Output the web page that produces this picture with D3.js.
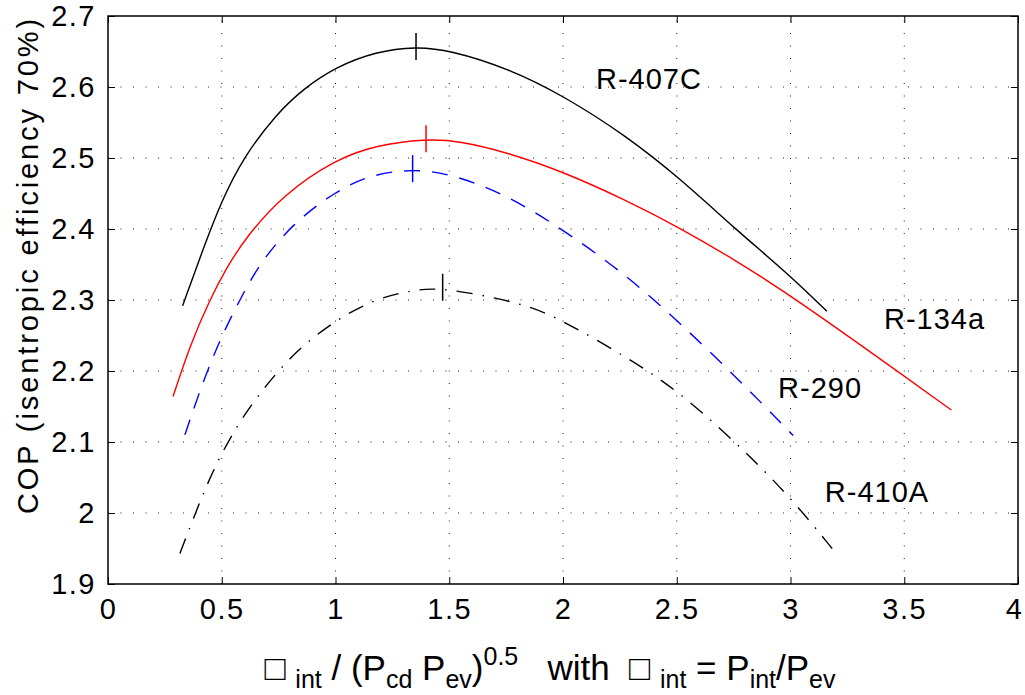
<!DOCTYPE html>
<html><head><meta charset="utf-8">
<script src="https://cdn.jsdelivr.net/npm/d3@7"></script>
<style>body{margin:0;background:#fff}svg{display:block}text{font-family:"Liberation Sans",Arial,Helvetica,sans-serif;fill:#000}</style>
</head><body><svg id="c" width="1025" height="695"></svg>
<script>
const xTicks = [0,0.5,1,1.5,2,2.5,3,3.5,4];
const yTicks = [1.9,2,2.1,2.2,2.3,2.4,2.5,2.6,2.7];
const seriesNames = ["R-407C","R-134a","R-290","R-410A"];
const r407cX = [0.328,0.418,0.5,0.593,0.74,0.857,1.0,1.178,1.354,1.5,1.754,2.006,2.274,2.512,2.764,2.989,3.16];
const r407cY = [2.292,2.372,2.440,2.500,2.562,2.597,2.628,2.650,2.657,2.652,2.627,2.587,2.532,2.472,2.398,2.337,2.284];
const r134aX = [0.286,0.36,0.447,0.52,0.608,0.769,1.0,1.178,1.398,1.544,1.754,2.006,2.274,2.512,2.764,3.017,3.495,3.707];
const r134aY = [2.164,2.236,2.300,2.345,2.389,2.448,2.498,2.518,2.527,2.524,2.508,2.480,2.441,2.402,2.355,2.303,2.194,2.145];
const r290X = [0.338,0.404,0.491,0.579,0.667,0.813,1.0,1.149,1.339,1.515,1.754,2.006,2.274,2.497,2.785,3.012];
const r290Y = [2.110,2.173,2.244,2.300,2.352,2.408,2.453,2.476,2.485,2.477,2.448,2.398,2.336,2.273,2.184,2.109];
const r410aX = [0.316,0.389,0.462,0.564,0.667,0.813,1.0,1.178,1.339,1.471,1.833,2.0,2.287,2.498,2.755,2.996,3.193];
const r410aY = [1.943,2.004,2.061,2.122,2.169,2.225,2.272,2.302,2.314,2.318,2.295,2.271,2.218,2.174,2.101,2.024,1.946];
const peakX = [1.354,1.398,1.339,1.471];
const peakY = [2.657,2.527,2.485,2.318];
const labelX = [2.378,3.633,3.130,3.380];
const labelY = [2.611,2.273,2.176,2.029];
const colors = ["#000","#ff0000","#0000ff","#000"];
const dashes = [null,null,"16,12","16,10,1.5,10"];

const svg = d3.select("#c");
const m = {l:108,t:16,r:7,b:111};
const W = 1025, H = 695;
const x = d3.scaleLinear().domain([0,4]).range([m.l, W-m.r]);
const y = d3.scaleLinear().domain([1.9,2.7]).range([H-m.b, m.t]);

// grid
const g = svg.append("g");
g.selectAll("line.gx").data(xTicks.slice(1,-1)).join("line")
 .attr("x1",d=>x(d)).attr("x2",d=>x(d)).attr("y1",y(1.9)).attr("y2",y(2.7))
 .attr("stroke","#222").attr("stroke-width",1).attr("stroke-dasharray","1,11.5");
g.selectAll("line.gy").data(yTicks.slice(1,-1)).join("line")
 .attr("y1",d=>y(d)).attr("y2",d=>y(d)).attr("x1",x(0)).attr("x2",x(4))
 .attr("stroke","#222").attr("stroke-width",1).attr("stroke-dasharray","1,11.5");

// axes
const tk = 7;
const xb = svg.append("g").attr("transform",`translate(0,${y(1.9)})`)
 .call(d3.axisBottom(x).tickValues(xTicks).tickSize(-tk).tickPadding(14).tickFormat(d3.format("~g")));
xb.selectAll(".tick text").filter(d=>d===4).attr("dx",-4);
svg.append("g").attr("transform",`translate(0,${y(2.7)})`)
 .call(d3.axisTop(x).tickValues(xTicks).tickSize(-tk).tickFormat(""));
svg.append("g").attr("transform",`translate(${x(0)},0)`)
 .call(d3.axisLeft(y).tickValues(yTicks).tickSize(-tk).tickPadding(12).tickFormat(d3.format("~g")));
svg.append("g").attr("transform",`translate(${x(4)},0)`)
 .call(d3.axisRight(y).tickValues(yTicks).tickSize(-tk).tickFormat(""));
svg.selectAll(".domain").remove();
svg.selectAll(".tick line").attr("stroke","#000").attr("stroke-width",1);
svg.selectAll(".tick text").style("font-size","29px").style("letter-spacing","1.5px").attr("fill","#000");
svg.append("rect").attr("x",x(0)).attr("y",y(2.7)).attr("width",x(4)-x(0)).attr("height",y(1.9)-y(2.7))
 .attr("fill","none").attr("stroke","#000").attr("stroke-width",1.5);

// curves
const xs = [r407cX,r134aX,r290X,r410aX], ys=[r407cY,r134aY,r290Y,r410aY];
const line = d3.line().x(d=>x(d[0])).y(d=>y(d[1])).curve(d3.curveBasis);
seriesNames.forEach((n,i)=>{
  const pts = xs[i].map((v,j)=>[v,ys[i][j]]);
  const p = svg.append("path").attr("d",line(pts)).attr("fill","none").attr("stroke",colors[i]).attr("stroke-width",1.4);
  if(dashes[i]) p.attr("stroke-dasharray",dashes[i]);
  svg.append("line").attr("x1",x(peakX[i])).attr("x2",x(peakX[i])).attr("y1",y(peakY[i])-13.5).attr("y2",y(peakY[i])+13.5)
   .attr("stroke",colors[i]).attr("stroke-width",1.5);
  svg.append("text").attr("x",x(labelX[i])).attr("y",y(labelY[i])).attr("text-anchor","middle").attr("dominant-baseline","central")
   .style("font-size","29px").style("letter-spacing","1px").text(n);
});

// y label
svg.append("text").attr("transform",`translate(28,${(y(1.9)+y(2.7))/2 - 35}) rotate(-90)`).attr("text-anchor","middle")
 .attr("dominant-baseline","central").style("font-size","29px").style("letter-spacing","2.9px").text("COP (isentropic efficiency 70%)");

// x label
const xl = svg.append("text").attr("x",550).attr("y",680).attr("text-anchor","middle").style("font-size","35px");
const parts = [["□ ",0],["int",1],[" / (P",0],["cd",1],[" P",0],["ev",1],[")",0],["0.5",2],["   with  □ ",0],["int",1],[" = P",0],["int",1],["/P",0],["ev",1]];
let cur = 0;
parts.forEach(([t,k])=>{
  const target = k===1?8:(k===2?-15:0);
  const ts = xl.append("tspan").attr("dy",target-cur).text(t).attr("xml:space","preserve").style("white-space","pre");
  if(k) ts.style("font-size","25px");
  cur = target;
});
</script></body></html>
